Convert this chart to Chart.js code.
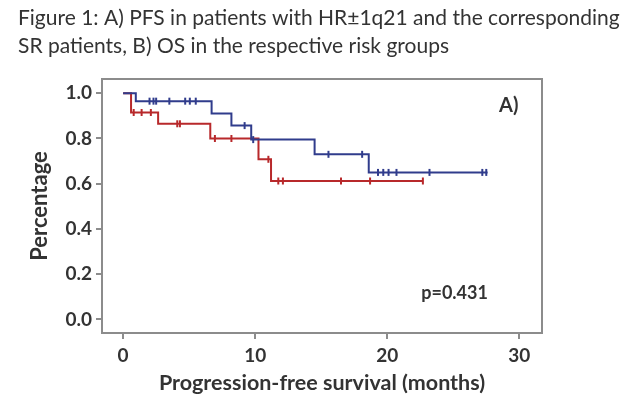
<!DOCTYPE html>
<html><head><meta charset="utf-8">
<script src="https://cdn.jsdelivr.net/npm/chart.js@4.4.1/dist/chart.umd.min.js"></script>
<style>html,body{margin:0;padding:0;background:#fff;}#wrap{width:640px;height:397px;position:relative;}</style>
</head><body><div id="wrap"><canvas id="c" width="640" height="397"></canvas></div>
<script>
// ---- data ----
const titleLines = ['Figure 1: A) PFS in patients with HR\u00b11q21 and the corresponding', 'SR patients, B) OS in the respective risk groups'];
const xTitle = 'Progression-free survival (months)';
const yTitle = 'Percentage';
const panelLabel = 'A)';
const pValueLabel = 'p=0.431';
const xTickValues = [0, 10, 20, 30];
const yTickValues = [0, 0.2, 0.4, 0.6, 0.8, 1.0];

const blueTimes = [0, 0.96, 6.7, 8.2, 9.7, 14.5, 18.6, 27.6];
const blueSurv  = [1.0, 0.965, 0.91, 0.857, 0.795, 0.73, 0.65, 0.65];
const blueCensor = [2.0, 2.3, 2.5, 3.5, 4.7, 5.05, 5.5, 9.2, 9.85, 15.55, 18.1, 19.3, 19.7, 20.1, 20.7, 23.2, 27.2, 27.5];

const redTimes = [0, 0.6, 2.65, 6.6, 10.25, 11.2, 22.7];
const redSurv  = [1.0, 0.915, 0.865, 0.80, 0.708, 0.612, 0.612];
const redCensor = [0.8, 1.4, 2.1, 4.1, 4.3, 6.95, 8.2, 11.0, 11.75, 12.1, 16.5, 18.7, 22.7];

// ---- styles ----
const BLUE = '#303c8c', RED = '#b8292b', AXIS = '#8c8c8c', TXT = '#333333';
const FONT = 'Lato';

function survAt(times, surv, t) {
  let s = surv[0];
  for (let i = 0; i < times.length; i++) { if (times[i] <= t) s = surv[i]; }
  return s;
}
const toPts = (ts, ss) => ts.map((t, i) => ({x: t, y: ss[i]}));
const censorPts = (cs, ts, ss) => cs.map(t => ({x: t, y: survAt(ts, ss, t)}));

const annot = {
  id: 'annot',
  afterDatasetsDraw(chart) {
    const {ctx, scales: {x, y}} = chart;
    ctx.save();
    ctx.fillStyle = TXT;
    ctx.textAlign = 'center'; ctx.textBaseline = 'middle';
    ctx.font = 'bold 20px ' + FONT;
    ctx.fillText(panelLabel, x.getPixelForValue(29.2), y.getPixelForValue(0.944));
    ctx.font = 'bold 18px ' + FONT;
    ctx.fillText(pValueLabel, x.getPixelForValue(25.1), y.getPixelForValue(0.116));
    ctx.restore();
  }
};

const lineDs = (pts, color) => ({type: 'line', data: pts, stepped: 'before', borderColor: color, borderWidth: 2, pointRadius: 0, fill: false});
const censDs = (pts, color) => ({type: 'scatter', data: pts, pointStyle: 'line', rotation: 90, pointRadius: 3.5, borderColor: color, backgroundColor: color, pointBorderWidth: 2, showLine: false});

new Chart(document.getElementById('c'), {
  type: 'line',
  data: { datasets: [
    lineDs(toPts(blueTimes, blueSurv), BLUE),
    censDs(censorPts(blueCensor, blueTimes, blueSurv), BLUE),
    lineDs(toPts(redTimes, redSurv), RED),
    censDs(censorPts(redCensor, redTimes, redSurv), RED)
  ]},
  plugins: [annot],
  options: {
    responsive: false, animation: false,
    layout: {padding: {left: 18, right: 10, top: 0, bottom: 0}},
    plugins: {
      legend: {display: false}, tooltip: {enabled: false},
      title: {display: true, text: titleLines, align: 'start', color: TXT,
        font: {family: FONT, size: 21, weight: 'normal', lineHeight: '28px'},
        padding: {top: 4, bottom: 19}}
    },
    scales: {
      x: {type: 'linear', position: 'bottom', min: -1.6, max: 31.72,
        afterBuildTicks: s => { s.ticks = xTickValues.map(v => ({value: v})); },
        ticks: {font: {family: FONT, size: 19, weight: 'bold'}, color: TXT, padding: 5, autoSkip: false, maxRotation: 0, callback: v => String(v)},
        grid: {drawOnChartArea: false, drawTicks: true, tickLength: 6, color: AXIS, lineWidth: 2},
        border: {display: true, color: AXIS, width: 2},
        title: {display: true, text: xTitle, color: TXT, font: {family: FONT, size: 21.5, weight: 'bold'}, padding: {top: 0, bottom: 1}},
        afterFit: s => { s.height = 64; }
      },
      y: {type: 'linear', position: 'left', min: -0.06, max: 1.063,
        afterBuildTicks: s => { s.ticks = yTickValues.map(v => ({value: v})); },
        ticks: {font: {family: FONT, size: 19, weight: 'bold'}, color: TXT, padding: 4, callback: v => Number(v).toFixed(1)},
        grid: {drawOnChartArea: false, drawTicks: true, tickLength: 6, color: AXIS, lineWidth: 2},
        border: {display: true, color: AXIS, width: 2},
        title: {display: true, text: yTitle, color: TXT, font: {family: FONT, size: 22, weight: 'bold'}, padding: {top: 9, bottom: 0}},
        afterFit: s => { s.width = 84; }
      },
      x2: {type: 'linear', position: 'top', display: true, ticks: {display: false}, grid: {display: false},
        border: {display: true, color: AXIS, width: 2}, afterFit: s => { s.height = 0; }},
      y2: {type: 'linear', position: 'right', display: true, ticks: {display: false}, grid: {display: false},
        border: {display: true, color: AXIS, width: 2}, afterFit: s => { s.width = 88; }}
    }
  }
});
</script>
</body></html>
